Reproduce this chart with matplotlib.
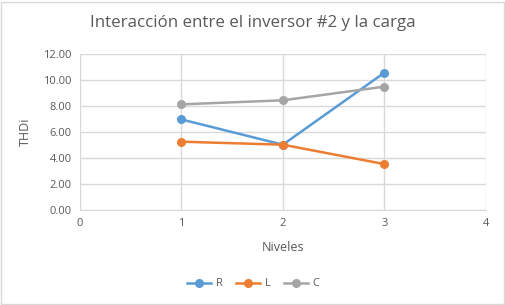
import matplotlib.pyplot as plt

niveles = [1, 2, 3]
r_vals = [6.97, 5.03, 10.56]
l_vals = [5.26, 5.03, 3.54]
c_vals = [8.13, 8.44, 9.49]

series = [('R', r_vals, '#5b9bd5'), ('L', l_vals, '#ed7d31'), ('C', c_vals, '#a5a5a5')]

plt.rcParams['font.family'] = ['Open Sans', 'DejaVu Sans']
txt = '#595959'
grid = '#d9d9d9'

fig = plt.figure(figsize=(5.06, 3.05), dpi=100)
ax = fig.add_axes([0.158, 0.311, 0.802, 0.512])

for name, vals, col in series:
    ax.plot(niveles, vals, color=col, lw=1.8, marker='o', ms=5.5, label=name, zorder=3)

ax.set_xlim(0, 4)
ax.set_ylim(0, 12)
ax.set_xticks([0, 1, 2, 3, 4])
ax.set_yticks(range(0, 13, 2))
ax.set_yticklabels([f'{v:.2f}' for v in range(0, 13, 2)])
ax.grid(True, color=grid, lw=1)
ax.set_axisbelow(True)
for s in ax.spines.values():
    s.set_visible(False)
ax.spines['bottom'].set_visible(True)
ax.spines['bottom'].set_color(grid)
ax.tick_params(length=0, colors=txt, labelsize=8, pad=6)

ax.set_xlabel('Niveles', color=txt, fontsize=9, labelpad=8)
ax.set_ylabel('THDi', color=txt, fontsize=9, labelpad=8)
fig.text(0.5, 1 - 23/305, 'Interacción entre el inversor #2 y la carga', ha='center', va='center',
         color=txt, fontsize=12.2)

ax.legend(loc='center', bbox_to_anchor=(0.5, 1 - 284/305), bbox_transform=fig.transFigure,
          ncol=3, frameon=False, fontsize=8, labelcolor=txt, handlelength=2.2,
          columnspacing=1.2, handletextpad=0.4)

fig.patches.append(plt.Rectangle((0.002, 0.003), 0.994, 0.992, transform=fig.transFigure,
                                 fill=False, edgecolor=grid, lw=1))

fig.savefig('out.png', dpi=100)
